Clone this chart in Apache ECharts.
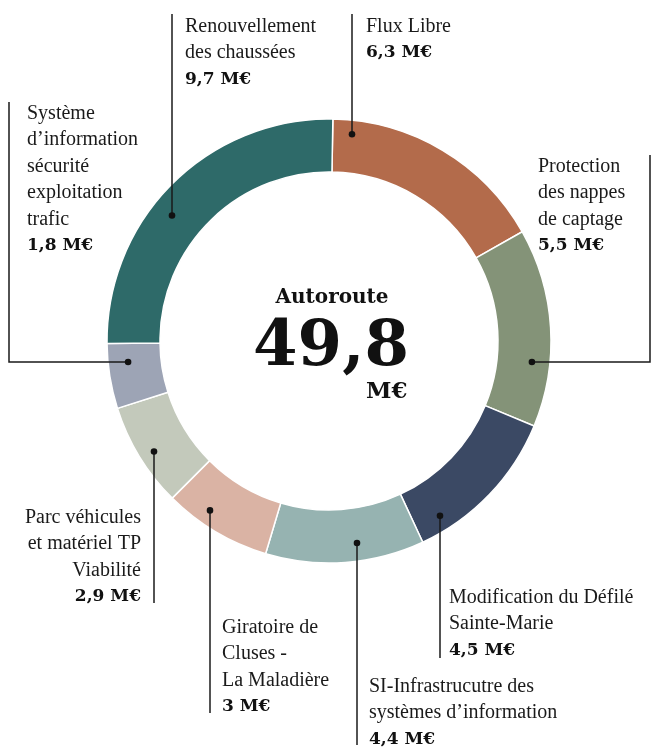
<!DOCTYPE html>
<html>
<head>
<meta charset="utf-8">
<title>Autoroute 49,8 M€</title>
<script src="https://cdn.jsdelivr.net/npm/echarts@6/dist/echarts.min.js"></script>
<style>
  html, body { margin: 0; padding: 0; background: #fff; }
  #chart { width: 651px; height: 749px; }
</style>
</head>
<body>
<div id="chart"></div>
<script>
// données, dans le sens horaire depuis midi
const categories = [
    'Flux Libre',
    'Protection\ndes nappes\nde captage',
    'Modification du Défilé\nSainte-Marie',
    'SI-Infrastrucutre des\nsystèmes d’information',
    'Giratoire de\nCluses -\nLa Maladière',
    'Parc véhicules\net matériel TP\nViabilité',
    'Système\nd’information\nsécurité\nexploitation\ntrafic',
    'Renouvellement\ndes chaussées'
];
const values = [6.3, 5.5, 4.5, 4.4, 3, 2.9, 1.8, 9.7];
const centerTitle = 'Autoroute';
const totalText = '49,8';
const unit = 'M€';

const colors = ['#b36b4b', '#849378', '#3b4964', '#96b3b1', '#dab3a4', '#c3c9bb', '#9da4b5', '#2e6a69'];

// géométrie de l'anneau
const CX = 329, CY = 341;
const R_IN = 169, R_OUT = 222;

// traits de rappel : dotX (trait vertical) ou dotY (trait horizontal), rayon du point,
// puis le tracé et la position du texte
const leaders = [
    { dotX: 352, r: 208, path: [[352, 14]], tx: 366, ty: 13, align: 'left' },
    { dotY: 362, r: 204, path: [[650, 362], [650, 155]], tx: 538, ty: 153, align: 'left' },
    { dotX: 440, r: 207, path: [[440, 658]], tx: 449, ty: 584, align: 'left' },
    { dotX: 357, r: 204, path: [[357, 745]], tx: 369, ty: 673, align: 'left' },
    { dotX: 210, r: 207, path: [[210, 713]], tx: 222, ty: 614, align: 'left' },
    { dotX: 154, r: 207, path: [[154, 603]], tx: 141, ty: 504, align: 'right' },
    { dotY: 362, r: 202, path: [[9, 362], [9, 102]], tx: 27, ty: 100, align: 'left' },
    { dotX: 172, r: 201, path: [[172, 14]], tx: 185, ty: 13, align: 'left' }
];

const dots = leaders.map(function (l) {
    if (l.dotX != null) {
        const dy = Math.sqrt(l.r * l.r - Math.pow(l.dotX - CX, 2));
        return [l.dotX, l.ty < CY ? CY - dy : CY + dy];
    }
    const dx = Math.sqrt(l.r * l.r - Math.pow(l.dotY - CY, 2));
    return [l.tx < CX ? CX - dx : CX + dx, l.dotY];
});

function fmt(v) {
    return String(v).replace('.', ',') + ' M€';
}

const chart = echarts.init(document.getElementById('chart'), null, { renderer: 'canvas' });

// traits + points par-dessus l'anneau
const leaderGraphics = [];
leaders.forEach(function (l, i) {
    leaderGraphics.push({
        type: 'polyline', z: 100,
        shape: { points: [dots[i]].concat(l.path) },
        style: { stroke: '#1a1a1a', lineWidth: 1.5, fill: null }
    });
    leaderGraphics.push({
        type: 'circle', z: 101,
        shape: { cx: dots[i][0], cy: dots[i][1], r: 3.3 },
        style: { fill: '#111' }
    });
});

const option = {
    backgroundColor: '#fff',
    animation: false,
    color: colors,
    graphic: [
        {
            type: 'text', z: 100,
            style: {
                text: centerTitle, x: 332, y: 298,
                textAlign: 'center', textVerticalAlign: 'middle',
                font: 'bold 20px "DejaVu Serif"', fill: '#111'
            }
        },
        {
            type: 'text', z: 100,
            style: {
                text: totalText, x: 331, y: 348,
                textAlign: 'center', textVerticalAlign: 'middle',
                font: 'bold 64px "DejaVu Serif"', fill: '#111'
            }
        },
        {
            type: 'text', z: 100,
            style: {
                text: unit, x: 366, y: 392,
                textAlign: 'left', textVerticalAlign: 'middle',
                font: 'bold 23px "DejaVu Serif"', fill: '#111'
            }
        }
    ].concat(leaderGraphics),
    series: [
        {
            name: 'Autoroute',
            type: 'pie',
            center: [CX, CY],
            radius: [R_IN, R_OUT],
            startAngle: 89,
            clockwise: true,
            avoidLabelOverlap: false,
            itemStyle: { borderColor: '#fff', borderWidth: 1.5 },
            emphasis: { disabled: true },
            label: {
                show: true,
                position: 'outside',
                formatter: function (p) {
                    return '{n|' + p.name + '}\n{v|' + fmt(p.value) + '}';
                },
                rich: {
                    n: { fontFamily: 'Liberation Serif', fontSize: 20, lineHeight: 26.5, color: '#1a1a1a' },
                    v: { fontFamily: 'DejaVu Serif', fontWeight: 'bold', fontSize: 17, lineHeight: 26.5, color: '#111' }
                }
            },
            labelLine: { show: false },
            labelLayout: function (params) {
                const l = leaders[params.dataIndex];
                return {
                    x: l.tx,
                    y: l.ty,
                    align: l.align,
                    verticalAlign: 'top'
                };
            },
            data: categories.map(function (c, i) {
                return { name: c, value: values[i] };
            })
        }
    ]
};

chart.setOption(option);
window.addEventListener('resize', function () {
    chart.resize();
});
</script>
</body>
</html>
